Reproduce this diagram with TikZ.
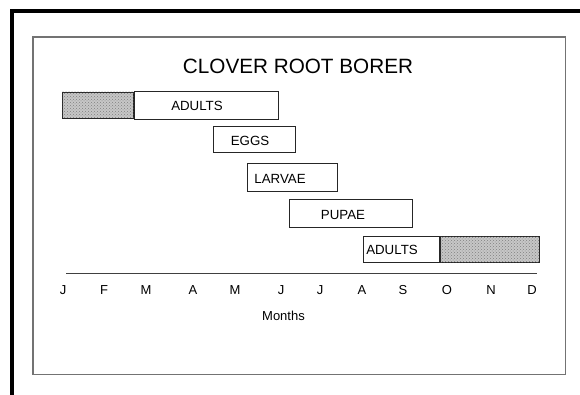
\documentclass[tikz,border=0pt]{standalone}
\usepackage{fontspec}
\setmainfont{Liberation Sans}
\usepackage{tikz}
\usetikzlibrary{positioning,patterns}

\begin{document}
\begin{tikzpicture}[
  x=1pt, y=-1pt,
  bar/.style={draw=black!85, line width=0.9pt, fill=white, inner sep=0pt, minimum height=26pt},
  hatch/.style={bar, fill=black!22, postaction={pattern=crosshatch dots, pattern color=black!50}},
  lbl/.style={font=\fontsize{13.3}{15}\selectfont, inner sep=0pt},
  month/.style={font=\fontsize{13}{15}\selectfont, inner sep=0pt}
]
\useasboundingbox (0,0) rectangle (580,395);
% heavy rule, top and left
\draw[line width=3.5pt] (580,11) -- (12,11) -- (12,395);
% panel
\draw[black!55, line width=1.2pt] (33,37) rectangle (565.5,374.5);

\node[font=\fontsize{20.7}{24}\selectfont, inner sep=0pt] (title) at (298,66.5) {CLOVER ROOT BORER};

% adults (spring)
\node[hatch, minimum width=71pt, anchor=west] (adA) at (62,105) {};
\node[bar, minimum width=144pt, minimum height=28pt, anchor=west] (adB) at (adA.east) {};
\node[lbl] (adBt) at (197,105.5) {ADULTS};
% eggs
\node[bar, minimum width=82pt, anchor=west] (eggs) at (213,139.5) {};
\node[lbl] (eggst) at (250,140.5) {EGGS};
% larvae
\node[bar, minimum width=90pt, minimum height=28pt, anchor=west] (larv) at (247,177) {};
\node[lbl] (larvt) at (280,178.5) {LARVAE};
% pupae
\node[bar, minimum width=123pt, minimum height=28pt, anchor=west] (pupa) at (289,213) {};
\node[lbl] (pupat) at (343,215) {PUPAE};
% adults (fall)
\node[bar, minimum width=76pt, anchor=west] (adC) at (363,249.5) {};
\node[hatch, minimum width=99pt, anchor=west] (adD) at (adC.east) {};
\node[lbl] (adCt) at (392,250) {ADULTS};

% month axis
\coordinate (axL) at (66,273);
\coordinate (axR) at (537,273);
\draw[black!75, line width=1pt] (axL) -- (axR);
\foreach \m/\x [count=\i] in {J/63,F/104,M/146,A/193,M/235,J/281,J/320,A/362,S/403,O/447,N/491,D/532}
  \node[month] (m\i) at (\x,290) {\m};
\node[month] (months) at (283.5,315.5) {Months};
\end{tikzpicture}
\end{document}
